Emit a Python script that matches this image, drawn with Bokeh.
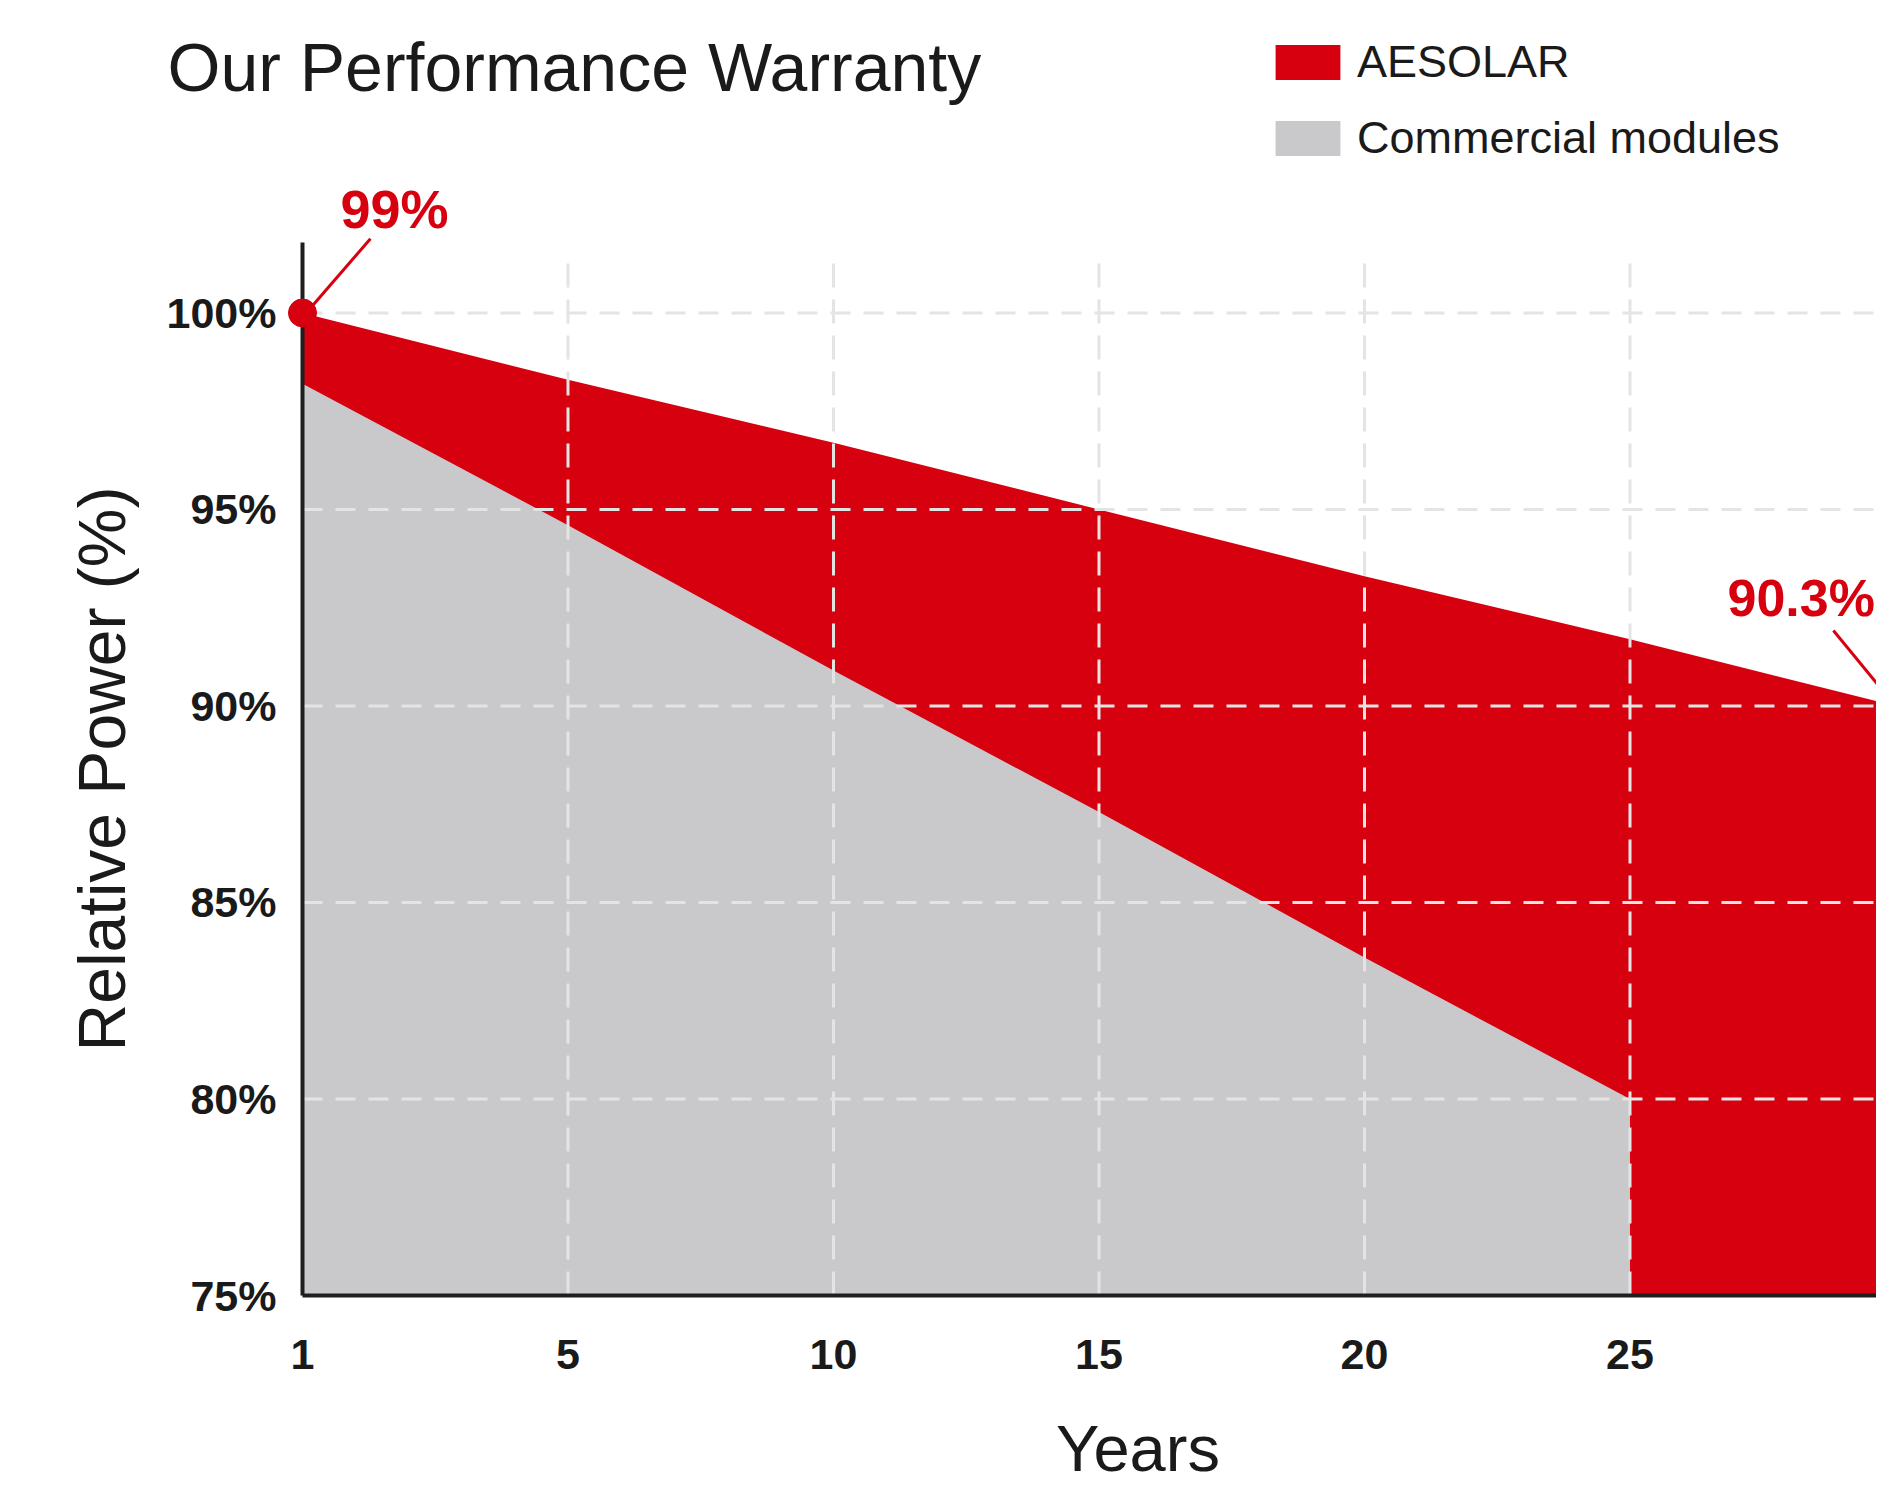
from bokeh.plotting import figure
from bokeh.models import Label, Legend, LegendItem, FixedTicker, Range1d
from bokeh.embed import file_html
from bokeh.resources import INLINE

# ---- data ----
years_pos = [0, 5, 10, 15, 20, 25, 30]
year_labels = ["1", "5", "10", "15", "20", "25", "30"]
aesolar = [100.0, 98.3, 96.7, 95.0, 93.3, 91.7, 90.0]
commercial_pos = [0, 5, 10, 15, 20, 25]
commercial = [98.2, 94.6, 90.9, 87.3, 83.6, 80.0]
y_ticks = [75, 80, 85, 90, 95, 100]
y_labels = ["75%", "80%", "85%", "90%", "95%", "100%"]
series_names = ["AESOLAR", "Commercial modules"]
start_label = "99%"
end_label = "90.3%"
baseline = 75
y_top = 101.8
grid_top = 101.4

RED = "#d7000f"
GREY = "#c9c9cb"
TXT = "#1a1a1a"
GRID = "#e4e4e4"
FONT = "Liberation Sans"

W, H = 1876, 1488
p = figure(width=W, height=H, output_backend="svg", toolbar_location=None,
           x_range=Range1d(-5.687, 29.642), y_range=Range1d(70.09, 107.95),
           min_border=0, outline_line_color=None,
           background_fill_color="white", border_fill_color="white")

r_red = p.varea(x=years_pos, y1=[baseline] * len(years_pos), y2=aesolar,
                fill_color=RED)
r_grey = p.varea(x=commercial_pos, y1=[baseline] * len(commercial_pos),
                 y2=commercial, fill_color=GREY)

# dashed grid drawn over the areas, limited to the chart box
p.xgrid.grid_line_color = None
p.ygrid.grid_line_color = None
vx = years_pos[1:]
p.segment(x0=vx, y0=[baseline] * len(vx), x1=vx, y1=[grid_top] * len(vx),
          line_color=GRID, line_width=3, line_dash="24 12", level="guide")
hy = y_ticks[1:]
p.segment(x0=[years_pos[0]] * len(hy), y0=hy, x1=[years_pos[-1]] * len(hy),
          y1=hy, line_color=GRID, line_width=3, line_dash="20 13",
          level="guide")

# axes, pinned to the data origin
p.xaxis.fixed_location = baseline
p.yaxis.fixed_location = years_pos[0]
p.xaxis.bounds = (years_pos[0], years_pos[-1])
p.yaxis.bounds = (baseline, y_top)
p.xaxis.ticker = FixedTicker(ticks=years_pos)
p.xaxis.major_label_overrides = {k: v for k, v in zip(years_pos, year_labels)}
p.yaxis.ticker = FixedTicker(ticks=y_ticks)
p.yaxis.major_label_overrides = {k: v for k, v in zip(y_ticks, y_labels)}
for ax in (p.xaxis, p.yaxis):
    ax.axis_line_color = "#1e1e1e"
    ax.axis_line_width = 4
    ax.major_tick_line_color = None
    ax.minor_tick_line_color = None
    ax.major_tick_out = 0
    ax.major_tick_in = 0
    ax.major_label_text_font = FONT
    ax.major_label_text_font_style = "bold"
    ax.major_label_text_font_size = "43px"
    ax.major_label_text_color = TXT
p.xaxis.major_label_standoff = 44
p.yaxis.major_label_standoff = 26
p.yaxis.axis_label = "Relative Power (%)"
p.yaxis.axis_label_text_font = FONT
p.yaxis.axis_label_text_font_style = "normal"
p.yaxis.axis_label_text_font_size = "66px"
p.yaxis.axis_label_text_color = TXT
p.yaxis.axis_label_standoff = 25

# start point + leader lines
p.segment(x0=[years_pos[0] + 0.2, years_pos[-1] - 1.17],
          y0=[aesolar[0] + 0.2, aesolar[-1] + 1.92],
          x1=[years_pos[0] + 1.28, years_pos[-1]],
          y1=[aesolar[0] + 1.89, aesolar[-1]],
          line_color=RED, line_width=3, level="annotation")
p.scatter(x=[years_pos[0]], y=[aesolar[0]], size=28, color=RED,
          level="annotation")

# value labels
p.add_layout(Label(x=years_pos[0], y=aesolar[0], x_offset=38, y_offset=104,
                   text=start_label, text_font=FONT, text_font_style="bold",
                   text_font_size="54px", text_color=RED,
                   text_baseline="alphabetic"))
p.add_layout(Label(x=years_pos[-1], y=aesolar[-1], x_offset=-168, y_offset=108,
                   text=end_label, text_font=FONT, text_font_style="bold",
                   text_font_size="52px", text_color=RED,
                   text_baseline="alphabetic"))

# title and x-axis caption
p.add_layout(Label(x=years_pos[0], y=100, x_offset=-135, y_offset=246,
                   text="Our Performance Warranty", text_font=FONT,
                   text_font_size="68px", text_color=TXT,
                   text_baseline="alphabetic"))
p.add_layout(Label(x=15, y=baseline, x_offset=39, y_offset=-153,
                   text="Years", text_font=FONT, text_font_size="65px",
                   text_color=TXT, text_align="center",
                   text_baseline="alphabetic"))

legend = Legend(items=[LegendItem(label=series_names[0], renderers=[r_red]),
                       LegendItem(label=series_names[1], renderers=[r_grey])],
                location=(1267, 1324), glyph_width=81, glyph_height=44,
                label_standoff=9, spacing=24, padding=0, margin=0,
                border_line_color=None, background_fill_alpha=0,
                label_text_font=FONT, label_text_font_size="45px",
                label_text_color=TXT, label_height=35)
p.add_layout(legend)

open("out.html", "w").write(file_html(p, INLINE))
